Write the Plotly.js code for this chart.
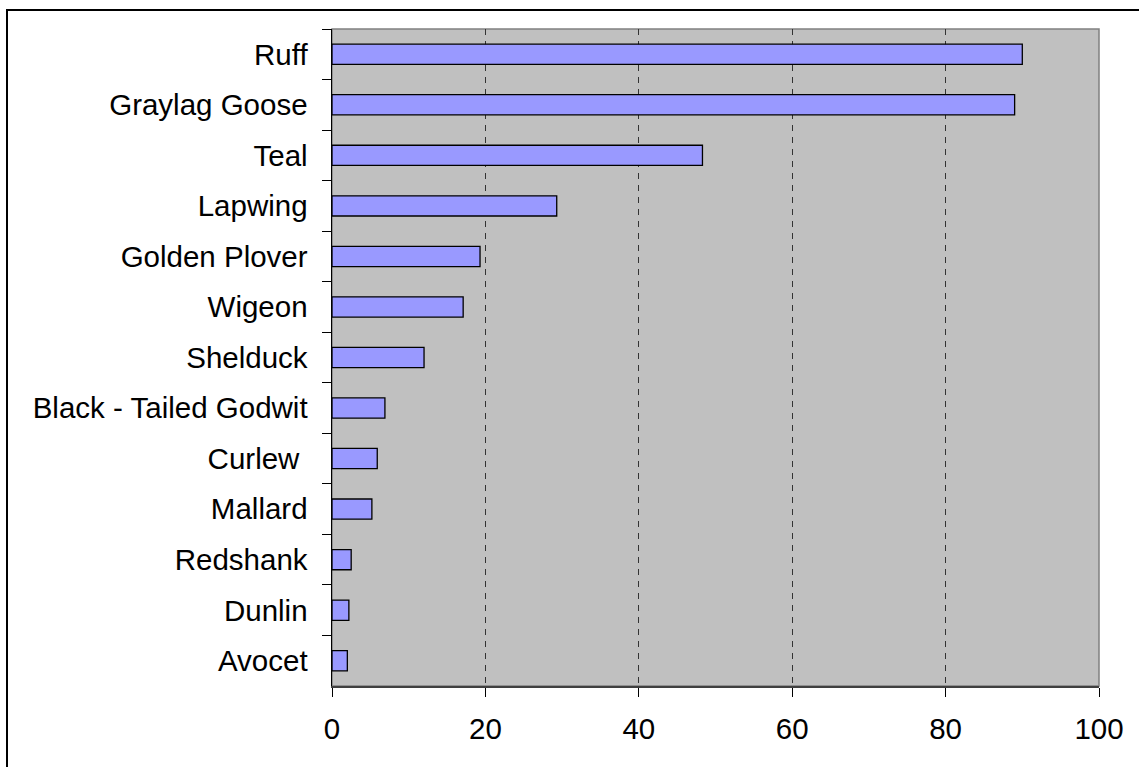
<!DOCTYPE html>
<html>
<head>
<meta charset="utf-8">
<script src="https://cdn.plot.ly/plotly-3.0.1.min.js"></script>
<style>
html,body{margin:0;padding:0;background:#fff;overflow:hidden;}
#wrap{position:relative;width:1139px;height:767px;}
#frame{position:absolute;left:6px;top:9px;width:1200px;height:800px;border-left:2px solid #000;border-top:2px solid #000;pointer-events:none;z-index:5;}
#chart{position:absolute;left:0;top:0;width:1139px;height:767px;}
</style>
</head>
<body>
<div id="wrap"><div id="chart"></div><div id="frame"></div></div>
<script>
const species = ["Ruff","Graylag Goose","Teal","Lapwing","Golden Plover","Wigeon","Shelduck","Black - Tailed Godwit","Curlew\u00a0","Mallard","Redshank","Dunlin","Avocet"];
const values = [90.0, 89.0, 48.3, 29.3, 19.3, 17.1, 12.0, 6.9, 5.9, 5.2, 2.5, 2.2, 2.0];
const xTicks = [0, 20, 40, 60, 80, 100];

const font = {family: "Liberation Sans, Arial, sans-serif", size: 29.5, color: "#000"};

Plotly.newPlot("chart", [{
  type: "bar",
  orientation: "h",
  x: values,
  y: species,
  marker: {color: "#9999ff", line: {color: "#000", width: 1.3}},
  hoverinfo: "none"
}], {
  width: 1139, height: 767,
  margin: {l: 332, r: 40, t: 29, b: 81, pad: 0},
  paper_bgcolor: "#ffffff",
  plot_bgcolor: "#c0c0c0",
  bargap: 0.6,
  showlegend: false,
  font: font,
  xaxis: {
    range: [0, 100],
    tickvals: xTicks,
    ticktext: xTicks.map(String),
    showgrid: true, gridcolor: "#333", griddash: "6px,6px", gridwidth: 1,
    zeroline: false,
    showline: true, linecolor: "#404040", linewidth: 2,
    ticks: "outside", ticklen: 9, tickcolor: "#000", tickwidth: 1,
    ticklabelstandoff: 7,
    tickfont: font,
    fixedrange: true
  },
  yaxis: {
    type: "category",
    autorange: "reversed",
    showgrid: false,
    zeroline: false,
    showline: true, linecolor: "#000", linewidth: 1.5,
    ticks: "outside", tickson: "boundaries", ticklen: 9, tickcolor: "#000", tickwidth: 1,
    ticklabelstandoff: 17,
    tickfont: font,
    fixedrange: true
  },
  shapes: [{
    type: "rect", xref: "paper", yref: "paper", x0: 0, x1: 1, y0: 0, y1: 1,
    line: {color: "#808080", width: 1.5}, fillcolor: "rgba(0,0,0,0)", layer: "below"
  }]
}, {displayModeBar: false, staticPlot: true});
</script>
</body>
</html>
